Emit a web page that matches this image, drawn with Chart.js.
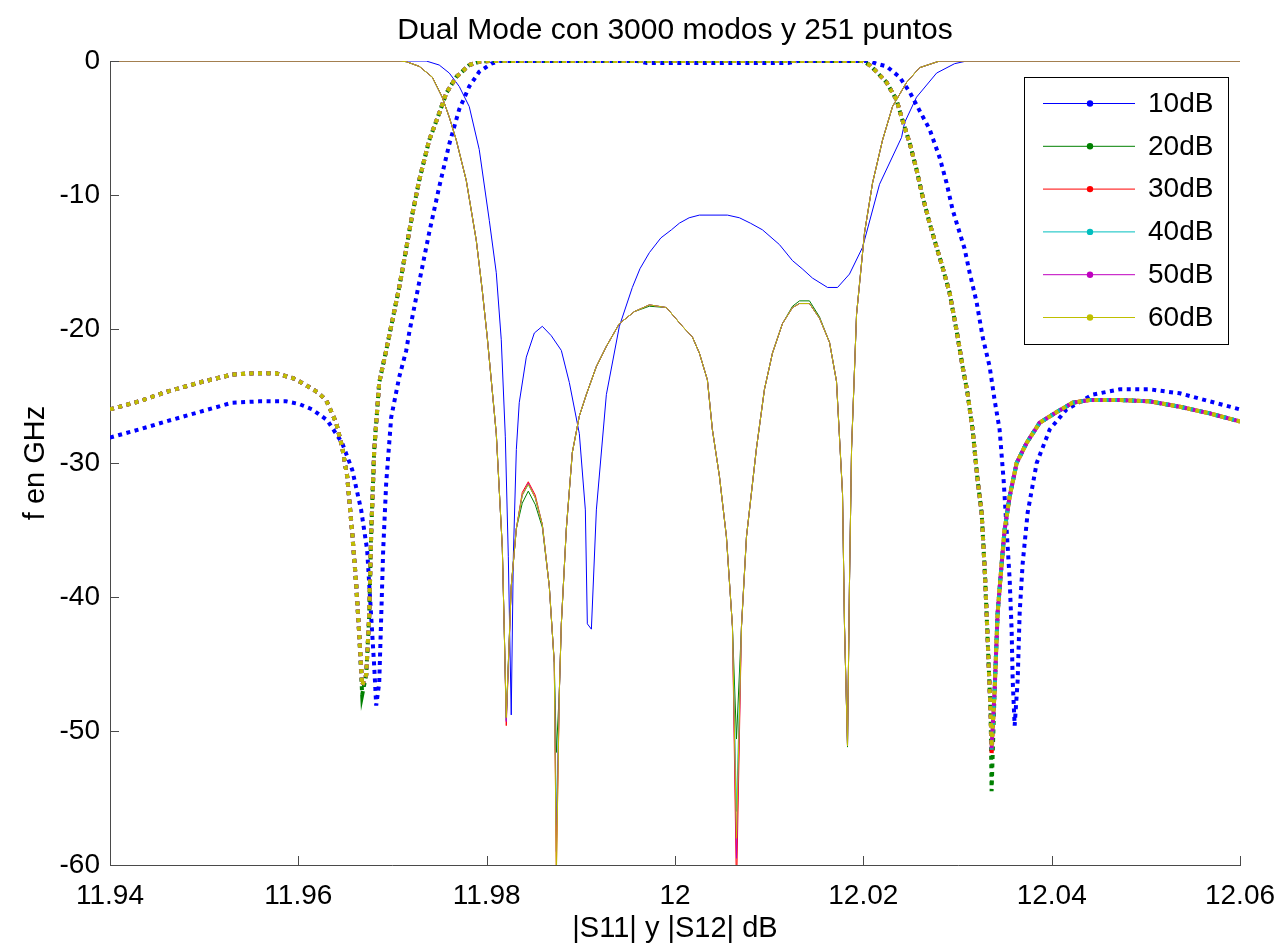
<!DOCTYPE html>
<html>
<head>
<meta charset="utf-8">
<title>Dual Mode</title>
<script src="https://cdn.jsdelivr.net/npm/chart.js@4.4.1/dist/chart.umd.min.js"></script>
<style>
  html, body { margin: 0; padding: 0; background: #fff; }
  #wrap { width: 1282px; height: 949px; }
</style>
</head>
<body>
<div id="wrap"><canvas id="plot" width="1282" height="949"></canvas></div>
<script>
// Filter response for several mode-matching tolerances: |S11| solid, |S21| dotted

const seriesNames = ['10dB', '20dB', '30dB', '40dB', '50dB', '60dB'];
const seriesColors = ['#0000ff', '#008000', '#ff0000', '#00bfbf', '#bf00bf', '#bfbf00'];
const plotTitle = 'Dual Mode con 3000 modos y 251 puntos';

const xTicks = [11.94, 11.96, 11.98, 12, 12.02, 12.04, 12.06];
const yTicks = [-60, -50, -40, -30, -20, -10, 0];

// 10 dB run
const freqS11_10 = [11.94, 11.97358, 11.97496, 11.97603, 11.97709, 11.97815, 11.97921, 11.98028, 11.98102,
  11.98155, 11.98198, 11.98230, 11.98261, 11.98283, 11.98315, 11.98346, 11.98421, 11.98506, 11.98591,
  11.98686, 11.98793, 11.98878, 11.98984, 11.99048, 11.99069, 11.99112, 11.99165, 11.99271, 11.99409,
  11.99547, 11.99628, 11.99728, 11.99850, 11.99962, 12.00047, 12.00150, 12.00259, 12.00557, 12.00684,
  12.00800, 12.00929, 12.01109, 12.01248, 12.01350, 12.01460, 12.01620, 12.01726, 12.01853, 12.01992,
  12.02172, 12.02406, 12.02438, 12.02565, 12.02778, 12.02969, 12.03097, 12.06];
const s11_10 = [0, 0, -0.3, -0.9, -1.9, -3.4, -6.6, -11.9, -15.8,
  -20.8, -28.0, -37.0, -48.8, -37.0, -29.0, -25.5, -22.1, -20.3, -19.8,
  -20.5, -21.6, -24.0, -27.8, -33.5, -42.0, -42.4, -33.5, -24.9, -19.8,
  -16.9, -15.5, -14.3, -13.2, -12.6, -12.1, -11.7, -11.5, -11.5, -11.7,
  -12.1, -12.6, -13.7, -14.9, -15.5, -16.2, -16.9, -16.9, -15.9, -13.9,
  -9.2, -5.7, -4.6, -2.7, -0.9, -0.2, 0, 0];

const freqS21_10 = [11.94, 11.94308, 11.94595, 11.94946, 11.95297, 11.95583, 11.95870, 11.96009, 11.96147,
  11.96306, 11.96465, 11.96572, 11.96667, 11.96731, 11.96774, 11.96806, 11.96827, 11.96859, 11.96880,
  11.96901, 11.96933, 11.96986, 11.97071, 11.97146, 11.97177, 11.97284, 11.97390, 11.97496, 11.97603,
  11.97709, 11.97815, 11.97921, 11.98049, 11.98134, 11.99600, 11.99700, 12.01200, 12.01300, 12.02066,
  12.02140, 12.02247, 12.02385, 12.02491, 12.02597, 12.02704, 12.02810, 12.02884, 12.02948, 12.03022,
  12.03075, 12.03129, 12.03203, 12.03267, 12.03341, 12.03394, 12.03447, 12.03490, 12.03522, 12.03554,
  12.03575, 12.03586, 12.03607, 12.03639, 12.03660, 12.03692, 12.03745, 12.03841, 12.03979, 12.04159,
  12.04436, 12.04723, 12.05041, 12.05360, 12.05679, 12.06];
const s21_10 = [-28.1, -27.5, -26.9, -26.2, -25.5, -25.4, -25.4, -25.6, -26.0,
  -26.8, -28.5, -30.5, -33.5, -36.5, -41.5, -45.2, -48.1, -46.4, -41.5,
  -36.5, -31.5, -26.6, -23.6, -21.6, -20.3, -16.5, -12.8, -9.4, -6.2,
  -3.6, -1.9, -0.8, -0.2, 0, 0, -0.15, -0.15, 0, 0,
  -0.2, -0.4, -1.2, -2.3, -3.7, -5.1, -7.2, -9.1, -11.1, -12.8,
  -14.0, -15.8, -18.0, -20.6, -22.8, -25.3, -27.5, -31.3, -35.0, -38.7,
  -42.5, -46.2, -49.6, -46.2, -41.2, -37.5, -33.7, -30.0, -27.5, -26.0,
  -24.9, -24.5, -24.5, -24.8, -25.4, -26.0];

// 20..60 dB runs share the same frequency points
const freqS11 = [11.94, 11.97071, 11.97146, 11.97284, 11.97422, 11.97528, 11.97603, 11.97677, 11.97783,
  11.97890, 11.97953, 11.98006, 11.98102, 11.98166, 11.98187, 11.98208, 11.98261, 11.98315, 11.98378,
  11.98442, 11.98516, 11.98591, 11.98665, 11.98718, 11.98740, 11.98772, 11.98793, 11.98846, 11.98910,
  11.98984, 11.99058, 11.99165, 11.99271, 11.99409, 11.99569, 11.99728, 11.99909, 12.00079, 12.00185,
  12.00259, 12.00344, 12.00397, 12.00472, 12.00546, 12.00610, 12.00653, 12.00706, 12.00759, 12.00865,
  12.00950, 12.01035, 12.01141, 12.01248, 12.01322, 12.01428, 12.01535, 12.01641, 12.01715, 12.01779,
  12.01800, 12.01832, 12.01853, 12.01875, 12.01928, 12.02013, 12.02098, 12.02204, 12.02310, 12.02459,
  12.02597, 12.02810, 12.06];
const s11_20 = [0, 0, -0.05, -0.4, -1.2, -2.7, -4.2, -5.9, -8.9,
  -13.4, -17.1, -20.6, -27.8, -36.3, -42.5, -49.0, -39.2, -34.9, -33.0,
  -32.1, -33.1, -34.8, -39.2, -44.9, -51.6, -47.0, -42.0, -34.9, -29.2,
  -26.5, -24.9, -22.8, -21.3, -19.6, -18.7, -18.3, -18.4, -19.8, -20.6,
  -21.8, -23.8, -27.5, -31.0, -35.5, -42.2, -50.6, -42.2, -35.5, -28.9,
  -24.5, -21.8, -19.6, -18.3, -17.9, -17.9, -19.1, -21.0, -23.9, -32.3,
  -42.2, -51.2, -38.9, -28.9, -18.9, -12.8, -9.1, -5.9, -3.4, -1.6,
  -0.5, 0, 0];
const s11_30 = [0, 0, -0.05, -0.4, -1.2, -2.7, -4.2, -5.9, -8.9,
  -13.4, -17.1, -20.6, -27.8, -36.3, -42.5, -49.6, -39.2, -34.9, -32.2,
  -31.4, -32.4, -34.6, -39.2, -44.9, -60.5, -47.0, -42.0, -34.9, -29.2,
  -26.5, -24.9, -22.8, -21.3, -19.6, -18.7, -18.2, -18.4, -19.8, -20.6,
  -21.8, -23.8, -27.5, -31.0, -35.5, -42.2, -62.0, -42.2, -35.5, -28.9,
  -24.5, -21.8, -19.6, -18.4, -18.1, -18.1, -19.2, -21.0, -23.9, -32.3,
  -42.2, -51.1, -38.9, -28.9, -18.9, -12.8, -9.1, -5.9, -3.4, -1.6,
  -0.5, 0, 0];
const s11_40 = [0, 0, -0.05, -0.4, -1.2, -2.7, -4.2, -5.9, -8.9,
  -13.4, -17.1, -20.6, -27.8, -36.3, -42.5, -49.2, -39.2, -34.9, -32.4,
  -31.6, -32.6, -34.6, -39.2, -44.9, -57.0, -47.0, -42.0, -34.9, -29.2,
  -26.5, -24.9, -22.8, -21.3, -19.6, -18.7, -18.2, -18.4, -19.8, -20.6,
  -21.8, -23.8, -27.5, -31.0, -35.5, -42.2, -56.0, -42.2, -35.5, -28.9,
  -24.5, -21.8, -19.6, -18.4, -18.1, -18.1, -19.2, -21.0, -23.9, -32.3,
  -42.2, -51.1, -38.9, -28.9, -18.9, -12.8, -9.1, -5.9, -3.4, -1.6,
  -0.5, 0, 0];
const s11_50 = [0, 0, -0.05, -0.4, -1.2, -2.7, -4.2, -5.9, -8.9,
  -13.4, -17.1, -20.6, -27.8, -36.3, -42.5, -49.3, -39.2, -34.9, -32.4,
  -31.5, -32.6, -34.6, -39.2, -44.9, -59.0, -47.0, -42.0, -34.9, -29.2,
  -26.5, -24.9, -22.8, -21.3, -19.6, -18.7, -18.2, -18.4, -19.8, -20.6,
  -21.8, -23.8, -27.5, -31.0, -35.5, -42.2, -59.5, -42.2, -35.5, -28.9,
  -24.5, -21.8, -19.6, -18.4, -18.1, -18.1, -19.2, -21.0, -23.9, -32.3,
  -42.2, -51.1, -38.9, -28.9, -18.9, -12.8, -9.1, -5.9, -3.4, -1.6,
  -0.5, 0, 0];
const s11_60 = [0, 0, -0.05, -0.4, -1.2, -2.7, -4.2, -5.9, -8.9,
  -13.4, -17.1, -20.6, -27.8, -36.3, -42.5, -49.0, -39.2, -34.9, -32.4,
  -31.6, -32.6, -34.6, -39.2, -44.9, -61.0, -47.0, -42.0, -34.9, -29.2,
  -26.5, -24.9, -22.8, -21.3, -19.6, -18.7, -18.2, -18.4, -19.8, -20.6,
  -21.8, -23.8, -27.5, -31.0, -35.5, -42.2, -58.0, -42.2, -35.5, -28.9,
  -24.5, -21.8, -19.6, -18.4, -18.1, -18.1, -19.2, -21.0, -23.9, -32.3,
  -42.2, -51.1, -38.9, -28.9, -18.9, -12.8, -9.1, -5.9, -3.4, -1.6,
  -0.5, 0, 0];

const freqS21 = [11.94, 11.94308, 11.94595, 11.94946, 11.95297, 11.95530, 11.95764, 11.95955, 11.96083,
  11.96200, 11.96295, 11.96402, 11.96465, 11.96519, 11.96572, 11.96614, 11.96646, 11.96678, 11.96721,
  11.96752, 11.96774, 11.96806, 11.96859, 11.96933, 11.97071, 11.97146, 11.97209, 11.97284, 11.97390,
  11.97496, 11.97571, 11.97677, 11.97815, 11.97921, 11.98028, 12.01992, 12.02066, 12.02140, 12.02247,
  12.02353, 12.02406, 12.02491, 12.02565, 12.02629, 12.02704, 12.02778, 12.02842, 12.02916, 12.02990,
  12.03054, 12.03107, 12.03160, 12.03214, 12.03256, 12.03288, 12.03309, 12.03330, 12.03352, 12.03362,
  12.03394, 12.03426, 12.03469, 12.03500, 12.03554, 12.03628, 12.03734, 12.03872, 12.04053, 12.04223,
  12.04404, 12.04723, 12.05041, 12.05360, 12.05679, 12.06];
const s21_20 = [-26.0, -25.4, -24.7, -24.0, -23.4, -23.3, -23.3, -23.7, -24.2,
  -24.7, -25.3, -27.0, -28.8, -31.0, -35.2, -39.0, -42.7, -47.3, -45.8,
  -41.5, -35.2, -29.0, -24.0, -21.6, -16.9, -14.0, -11.5, -8.9, -5.9,
  -3.9, -2.4, -1.2, -0.3, -0.05, 0, 0, -0.3, -0.8, -1.6,
  -2.9, -4.2, -6.1, -8.1, -10.1, -12.1, -13.9, -15.4, -17.3, -20.1,
  -22.8, -24.8, -27.5, -31.3, -33.7, -37.8, -41.2, -44.9, -48.7, -54.5,
  -47.0, -41.2, -37.5, -35.0, -32.5, -30.0, -28.5, -27.0, -26.2, -25.5,
  -25.3, -25.3, -25.4, -25.8, -26.3, -26.9];
const s21_30 = [-26.0, -25.4, -24.7, -24.0, -23.4, -23.3, -23.3, -23.7, -24.2,
  -24.7, -25.3, -27.0, -28.8, -31.0, -35.2, -39.0, -42.7, -46.6, -45.8,
  -41.5, -35.2, -29.0, -24.0, -21.6, -16.9, -14.0, -11.5, -8.9, -5.9,
  -3.9, -2.4, -1.2, -0.3, -0.05, 0, 0, -0.3, -0.8, -1.6,
  -2.9, -4.2, -6.1, -8.1, -10.1, -12.1, -13.9, -15.4, -17.3, -20.1,
  -22.8, -24.8, -27.5, -31.3, -33.7, -37.8, -41.2, -44.9, -48.7, -51.8,
  -47.0, -41.2, -37.5, -35.0, -32.5, -30.0, -28.5, -27.0, -26.2, -25.5,
  -25.3, -25.3, -25.4, -25.8, -26.3, -26.9];
const s21_40 = [-26.0, -25.4, -24.7, -24.0, -23.4, -23.3, -23.3, -23.7, -24.2,
  -24.7, -25.3, -27.0, -28.8, -31.0, -35.2, -39.0, -42.7, -46.6, -45.8,
  -41.5, -35.2, -29.0, -24.0, -21.6, -16.9, -14.0, -11.5, -8.9, -5.9,
  -3.9, -2.4, -1.2, -0.3, -0.05, 0, 0, -0.3, -0.8, -1.6,
  -2.9, -4.2, -6.1, -8.1, -10.1, -12.1, -13.9, -15.4, -17.3, -20.1,
  -22.8, -24.8, -27.5, -31.3, -33.7, -37.8, -41.2, -44.9, -48.7, -51.4,
  -47.0, -41.2, -37.5, -35.0, -32.5, -30.0, -28.5, -27.0, -26.2, -25.5,
  -25.3, -25.3, -25.4, -25.8, -26.3, -26.9];
const s21_50 = [-26.0, -25.4, -24.7, -24.0, -23.4, -23.3, -23.3, -23.7, -24.2,
  -24.7, -25.3, -27.0, -28.8, -31.0, -35.2, -39.0, -42.7, -46.6, -45.8,
  -41.5, -35.2, -29.0, -24.0, -21.6, -16.9, -14.0, -11.5, -8.9, -5.9,
  -3.9, -2.4, -1.2, -0.3, -0.05, 0, 0, -0.3, -0.8, -1.6,
  -2.9, -4.2, -6.1, -8.1, -10.1, -12.1, -13.9, -15.4, -17.3, -20.1,
  -22.8, -24.8, -27.5, -31.3, -33.7, -37.8, -41.2, -44.9, -48.7, -51.3,
  -47.0, -41.2, -37.5, -35.0, -32.5, -30.0, -28.5, -27.0, -26.2, -25.5,
  -25.3, -25.3, -25.4, -25.8, -26.3, -26.9];
const s21_60 = [-26.0, -25.4, -24.7, -24.0, -23.4, -23.3, -23.3, -23.7, -24.2,
  -24.7, -25.3, -27.0, -28.8, -31.0, -35.2, -39.0, -42.7, -46.6, -45.8,
  -41.5, -35.2, -29.0, -24.0, -21.6, -16.9, -14.0, -11.5, -8.9, -5.9,
  -3.9, -2.4, -1.2, -0.3, -0.05, 0, 0, -0.3, -0.8, -1.6,
  -2.9, -4.2, -6.1, -8.1, -10.1, -12.1, -13.9, -15.4, -17.3, -20.1,
  -22.8, -24.8, -27.5, -31.3, -33.7, -37.8, -41.2, -44.9, -48.7, -51.2,
  -47.0, -41.2, -37.5, -35.0, -32.5, -30.0, -28.5, -27.0, -26.2, -25.5,
  -25.3, -25.3, -25.4, -25.8, -26.3, -26.9];

const runs = [
  { f11: freqS11_10, s11: s11_10, f21: freqS21_10, s21: s21_10 },
  { f11: freqS11, s11: s11_20, f21: freqS21, s21: s21_20 },
  { f11: freqS11, s11: s11_30, f21: freqS21, s21: s21_30 },
  { f11: freqS11, s11: s11_40, f21: freqS21, s21: s21_40 },
  { f11: freqS11, s11: s11_50, f21: freqS21, s21: s21_50 },
  { f11: freqS11, s11: s11_60, f21: freqS21, s21: s21_60 }
];

const FONT = "'Liberation Sans', Arial, Helvetica, sans-serif";
const AXIS_COLOR = '#4a4a4a';

function toPoints(freqs, values) {
    return freqs.map((f, i) => ({ x: f, y: values[i] }));
}

// Later runs go first so that they are painted on top (Chart.js paints index 0 last)
const datasets = [];
for (let i = runs.length - 1; i >= 0; i--) {
    const run = runs[i];
    datasets.push({
        label: seriesNames[i] + ' S21',
        data: toPoints(run.f21, run.s21),
        borderColor: seriesColors[i],
        borderWidth: 4,
        borderDash: [4, 4.5],
        borderCapStyle: 'butt'
    });
    datasets.push({
        label: seriesNames[i] + ' S11',
        data: toPoints(run.f11, run.s11),
        borderColor: seriesColors[i],
        borderWidth: 1
    });
}

// MATLAB style ticks pointing into the plot area
const innerTicks = {
    id: 'innerTicks',
    afterDatasetsDraw(chart) {
        const { ctx, chartArea, scales } = chart;
        const len = 9;
        ctx.save();
        ctx.strokeStyle = AXIS_COLOR;
        ctx.lineWidth = 1;
        ctx.beginPath();
        xTicks.forEach(v => {
            const px = Math.round(scales.x.getPixelForValue(v)) + 0.5;
            ctx.moveTo(px, chartArea.bottom);
            ctx.lineTo(px, chartArea.bottom - len);
        });
        yTicks.forEach(v => {
            const py = Math.round(scales.y.getPixelForValue(v)) + 0.5;
            ctx.moveTo(chartArea.left, py);
            ctx.lineTo(chartArea.left + len, py);
        });
        ctx.stroke();
        ctx.restore();
    }
};

// Title centred over the axes, plus a boxed legend with a dot in each line sample
const titleAndLegend = {
    id: 'titleAndLegend',
    afterDraw(chart) {
        const { ctx, chartArea } = chart;
        ctx.save();
        ctx.fillStyle = '#000';
        ctx.font = '30px ' + FONT;
        ctx.textAlign = 'center';
        ctx.textBaseline = 'middle';
        ctx.fillText(plotTitle, (chartArea.left + chartArea.right) / 2, 31);

        const w = 204, h = 267;
        const left = chartArea.right - 12 - w;
        const top = chartArea.top + 16;
        const rowH = 42.8;
        ctx.fillStyle = '#fff';
        ctx.fillRect(left, top, w, h);
        ctx.strokeStyle = '#000';
        ctx.lineWidth = 1;
        ctx.strokeRect(left + 0.5, top + 0.5, w, h);
        ctx.font = '28px ' + FONT;
        ctx.textAlign = 'left';
        seriesNames.forEach((name, i) => {
            const y = top + 26 + i * rowH;
            ctx.strokeStyle = seriesColors[i];
            ctx.beginPath();
            ctx.moveTo(left + 19, y + 0.5);
            ctx.lineTo(left + 111, y + 0.5);
            ctx.stroke();
            ctx.fillStyle = seriesColors[i];
            ctx.beginPath();
            ctx.arc(left + 66, y + 0.5, 3.2, 0, Math.PI * 2);
            ctx.fill();
            ctx.fillStyle = '#000';
            ctx.fillText(name, left + 124, y + 1);
        });
        ctx.restore();
    }
};

new Chart(document.getElementById('plot'), {
    type: 'line',
    data: { datasets: datasets },
    options: {
        responsive: false,
        animation: false,
        events: [],
        layout: { padding: { left: 0, right: 42, top: 61, bottom: 0 } },
        elements: {
            point: { radius: 0 },
            line: { tension: 0, fill: false }
        },
        plugins: {
            legend: { display: false },
            tooltip: { enabled: false },
            title: { display: false }
        },
        scales: {
            x: {
                type: 'linear',
                min: 11.94,
                max: 12.06,
                afterFit: s => { s.height = 84; },
                afterBuildTicks: s => { s.ticks = xTicks.map(v => ({ value: v })); },
                grid: { display: false },
                border: { display: true, color: AXIS_COLOR, width: 1 },
                ticks: {
                    color: '#000',
                    padding: 6,
                    maxRotation: 0,
                    font: { family: FONT, size: 28 },
                    callback: v => String(Number(v.toFixed(2)))
                },
                title: {
                    display: true,
                    text: '|S11| y |S12| dB',
                    color: '#000',
                    font: { family: FONT, size: 29 },
                    padding: { top: 0, bottom: 3 }
                }
            },
            y: {
                type: 'linear',
                min: -60,
                max: 0,
                afterFit: s => { s.width = 110; },
                afterBuildTicks: s => { s.ticks = yTicks.map(v => ({ value: v })); },
                grid: { display: false },
                border: { display: true, color: AXIS_COLOR, width: 1 },
                ticks: {
                    color: '#000',
                    padding: 2,
                    font: { family: FONT, size: 28 },
                    callback: v => String(v)
                },
                title: {
                    display: true,
                    text: 'f en GHz',
                    color: '#000',
                    font: { family: FONT, size: 29 },
                    padding: { top: 19, bottom: 0 }
                }
            }
        }
    },
    plugins: [innerTicks, titleAndLegend]
});
</script>
</body>
</html>
